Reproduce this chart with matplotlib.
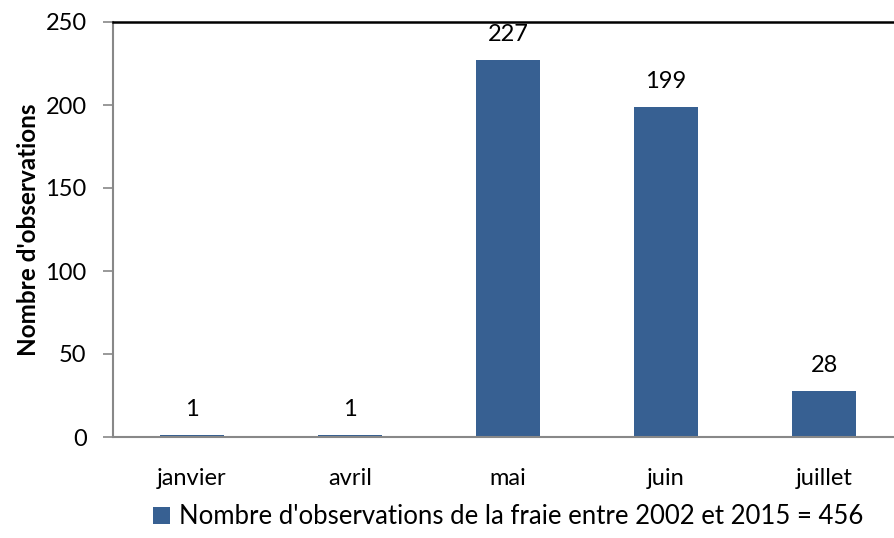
import matplotlib
matplotlib.use("Agg")
import matplotlib.pyplot as plt
from matplotlib.patches import Patch

plt.rcParams['font.family'] = ['Lato', 'DejaVu Sans']

categories = ["janvier", "avril", "mai", "juin", "juillet"]
values = [1, 1, 227, 199, 28]
yticks = [0, 50, 100, 150, 200, 250]
series_label = "Nombre d'observations de la fraie entre 2002 et 2015 = 456"
ylabel = "Nombre d'observations"
bar_color = "#376092"

fig = plt.figure(figsize=(8.95, 5.38), dpi=100)
ax = fig.add_axes([113/895, 1-437/538, 790/895, 415/538])

x = range(len(categories))
bars = ax.bar(x, values, width=0.4, color=bar_color, zorder=2)
for xi, v in zip(x, values):
    ax.text(xi, v + 9, str(v), ha='center', va='bottom', fontsize=17, color='black')

ax.set_xlim(-0.5, len(categories) - 0.5)
ax.set_ylim(0, 250)
ax.set_yticks(yticks)
ax.set_xticks(list(x))
ax.set_xticklabels(categories, fontsize=17)
ax.tick_params(axis='y', labelsize=17, length=7, width=1.2, color='#888888', pad=12, direction='out')
ax.tick_params(axis='x', length=0, pad=22)

ax.spines['left'].set_color('#888888')
ax.spines['left'].set_linewidth(1.5)
ax.spines['bottom'].set_color('#888888')
ax.spines['bottom'].set_linewidth(1.5)
ax.spines['top'].set_color('black')
ax.spines['top'].set_linewidth(1.8)
ax.spines['right'].set_visible(False)

ax.set_ylabel(ylabel, fontsize=17.5, fontweight='bold', labelpad=4)

handle = Patch(facecolor=bar_color, edgecolor='none')
fig.legend([handle], [series_label], loc='center', bbox_to_anchor=(508/895, 1-517/538),
           frameon=False, fontsize=18.5, handlelength=0.65, handleheight=0.65, handletextpad=0.35)

fig.savefig("out.png", dpi=100)
